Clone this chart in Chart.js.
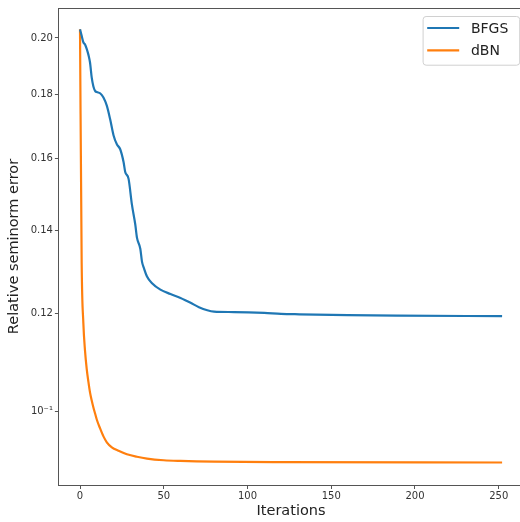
<!DOCTYPE html>
<html>
<head>
<meta charset="utf-8">
<script src="https://cdn.jsdelivr.net/npm/chart.js@4.4.1/dist/chart.umd.min.js"></script>
<style>
html,body{margin:0;padding:0;background:#fff;overflow:hidden;}
canvas{display:block;}
</style>
</head>
<body>
<canvas id="c" width="530" height="522" style="width:530px;height:522px"></canvas>
<script>
// ---- data ----
const iterBFGS = [0,1,2,3,4,5,6,7,8,9,10,12,14,16,18,20,22,24,26,27,29,31,33,34,36,37,38,40,43,48,54,60,66,71,76,80,92,110,120,131,160,190,252];
const errBFGS  = [0.2032,0.2008,0.1984,0.1976,0.1960,0.1939,0.1910,0.1858,0.1828,0.1813,0.1809,0.1805,0.1791,0.1764,0.1720,0.1670,0.1642,0.1627,0.1589,0.1560,0.1540,0.1468,0.1415,0.1381,0.1353,0.1321,0.1307,0.1285,0.1269,0.1254,0.1244,0.1235,0.1224,0.1214,0.1207,0.1204,0.1203,0.1201,0.1199,0.1198,0.1196,0.1195,0.1194];
const iterDBN  = [0,1,2,3,4,5,6,7,8,9,10,12,14,16,19,23,28,34,40,50,60,80,120,252];
const errDBN   = [0.2032,0.13165,0.11786,0.11194,0.10829,0.10573,0.10360,0.10209,0.10078,0.09967,0.09857,0.09695,0.09553,0.09449,0.09361,0.09301,0.09242,0.09199,0.09168,0.09140,0.09128,0.09115,0.09107,0.09102];
const xTicks = [0,50,100,150,200,250];
const yTicks = [0.10,0.12,0.14,0.16,0.18,0.20];
const seriesNames = ['BFGS','dBN'];
const seriesColors = ['#1f77b4','#ff7f0e'];

const toPts = (xs, ys) => xs.map((x,i)=>({x:x, y:ys[i]}));

const FONT = "'DejaVu Sans', sans-serif";
const AX = '#555';

const legendPlugin = {
  id: 'mplLegend',
  afterDatasetsDraw(chart){
    const {ctx, chartArea} = chart;
    const right = chartArea.right - 4, top = chartArea.top + 8;
    const w = 96.6, h = 48.7;
    const left = right - w;
    ctx.save();
    ctx.fillStyle = 'rgba(255,255,255,0.85)';
    ctx.strokeStyle = '#d0d0d0';
    ctx.lineWidth = 1;
    ctx.beginPath();
    ctx.roundRect(left+0.5, top+0.5, w, h, 3);
    ctx.fill(); ctx.stroke();
    chart.data.datasets.forEach((ds, i) => {
      const y = top + 12 + i*22.3;
      ctx.strokeStyle = ds.borderColor;
      ctx.lineWidth = 2.2;
      ctx.beginPath();
      ctx.moveTo(left+4.6, y); ctx.lineTo(left+36.6, y);
      ctx.stroke();
      ctx.fillStyle = '#222';
      ctx.font = "14px " + FONT;
      ctx.textBaseline = 'middle';
      ctx.textAlign = 'left';
      ctx.fillText(ds.label, left+48.3, y+1);
    });
    ctx.restore();
  }
};

new Chart(document.getElementById('c'), {
  type: 'line',
  data: {
    datasets: [
      {label: seriesNames[0], data: toPts(iterBFGS, errBFGS), borderColor: seriesColors[0], backgroundColor: seriesColors[0], borderWidth: 2.2, pointRadius: 0, cubicInterpolationMode: 'monotone', fill: false},
      {label: seriesNames[1], data: toPts(iterDBN, errDBN), borderColor: seriesColors[1], backgroundColor: seriesColors[1], borderWidth: 2.2, pointRadius: 0, cubicInterpolationMode: 'monotone', fill: false}
    ]
  },
  options: {
    responsive: false,
    animation: false,
    devicePixelRatio: 1,
    layout: {padding: {top: 5, left: 0, right: 6.8, bottom: 0}},
    plugins: {legend: {display: false}, tooltip: {enabled: false}},
    scales: {
      x: {
        type: 'linear', position: 'bottom', min: -12.6, max: 264.6,
        afterBuildTicks: s => { s.ticks = xTicks.map(v => ({value: v})); },
        afterFit: s => { s.height = 37; },
        ticks: {font: {family: FONT, size: 10}, color: '#333', padding: 1, maxRotation: 0, callback: v => String(v)},
        grid: {display: true, drawOnChartArea: false, tickLength: 4, tickColor: AX, tickWidth: 1},
        border: {display: true, color: AX, width: 1},
        title: {display: true, text: 'Iterations', font: {family: FONT, size: 14.5}, color: '#222', padding: {top: 0, bottom: 1.6}}
      },
      xTop: {
        type: 'linear', position: 'top', min: -12.6, max: 264.6,
        afterFit: s => { s.height = 0; },
        ticks: {display: false},
        grid: {display: false, drawTicks: false},
        border: {display: true, color: AX, width: 1}
      },
      y: {
        type: 'logarithmic', position: 'left', min: 0.087297, max: 0.21141,
        afterBuildTicks: s => { s.ticks = yTicks.map(v => ({value: v})); },
        afterFit: s => { s.width = 58.9; },
        ticks: {font: {family: FONT, size: 10}, color: '#333', padding: 2, callback: v => (Math.abs(v-0.1) < 1e-9 ? '10\u207B\u00B9' : v.toFixed(2))},
        grid: {display: true, drawOnChartArea: false, tickLength: 4, tickColor: AX, tickWidth: 1},
        border: {display: true, color: AX, width: 1},
        title: {display: true, text: 'Relative seminorm error', font: {family: FONT, size: 14.5}, color: '#222', padding: {top: 5.5, bottom: 0}}
      }
    }
  },
  plugins: [legendPlugin]
});
</script>
</body>
</html>
